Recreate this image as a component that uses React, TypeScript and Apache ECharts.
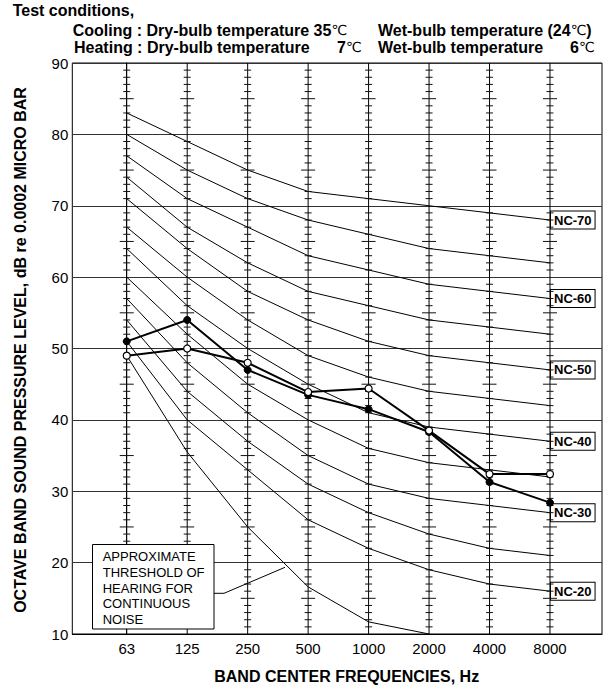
import React, { useEffect, useRef } from "react";
import * as echarts from "echarts";

// ---- data ----
const freqLabels = ["63", "125", "250", "500", "1000", "2000", "4000", "8000"];

const nc70 = [83, 79, 75, 72, 71, 70, 69, 68];
const nc65 = [80, 75, 71, 68, 66, 64, 63, 62];
const nc60 = [77, 71, 67, 63, 61, 59, 58, 57];
const nc55 = [74, 67, 62, 58, 56, 54, 53, 52];
const nc50 = [71, 64, 58, 54, 51, 49, 48, 47];
const nc45 = [67, 60, 54, 49, 46, 44, 43, 42];
const nc40 = [64, 56, 50, 45, 41, 39, 38, 37];
const nc35 = [60, 52, 45, 40, 36, 34, 33, 32];
const nc30 = [57, 48, 41, 35, 31, 29, 28, 27];
const nc25 = [54, 44, 37, 31, 27, 24, 22, 21];
const nc20 = [51, 40, 33, 26, 22, 19, 17, 16];

const thresholdOfHearing = [49, 35.5, 25, 16.6, 11.7, 10];

const filledMarkerLevels = [51, 54, 47, 43.5, 41.5, 38.3, 31.3, 28.4];
const openMarkerLevels = [49, 50, 48, 43.9, 44.4, 38.5, 32.4, 32.4];

const ncCurves: { name: string; values: number[]; labeled: boolean }[] = [
  { name: "NC-70", values: nc70, labeled: true },
  { name: "NC-65", values: nc65, labeled: false },
  { name: "NC-60", values: nc60, labeled: true },
  { name: "NC-55", values: nc55, labeled: false },
  { name: "NC-50", values: nc50, labeled: true },
  { name: "NC-45", values: nc45, labeled: false },
  { name: "NC-40", values: nc40, labeled: true },
  { name: "NC-35", values: nc35, labeled: false },
  { name: "NC-30", values: nc30, labeled: true },
  { name: "NC-25", values: nc25, labeled: false },
  { name: "NC-20", values: nc20, labeled: true },
];

const FONT = "'Liberation Sans', Arial, Helvetica, sans-serif";
const CJK = "'DejaVu Sans', 'Noto Sans CJK JP', sans-serif";

export default function App() {
  const ref = useRef<HTMLDivElement>(null);

  useEffect(() => {
    document.body.style.margin = "0";
    if (!ref.current) return;
    const chart = echarts.init(ref.current, null, { renderer: "svg" });

    const toPts = (arr: number[]) => arr.map((v, i) => [i, v]);

    const series: any[] = [];

    ncCurves.forEach((c) => {
      series.push({
        type: "line",
        name: c.name,
        data: toPts(c.values),
        symbol: "none",
        silent: true,
        z: 2,
        lineStyle: { color: "#000", width: 1 },
        endLabel: c.labeled
          ? {
              show: true,
              formatter: c.name,
              distance: 1,
              fontFamily: FONT,
              fontWeight: "bold",
              fontSize: 13,
              color: "#000",
              backgroundColor: "#fff",
              borderColor: "#000",
              borderWidth: 1,
              padding: [2, 3, 1, 3],
              lineHeight: 14,
            }
          : { show: false },
      });
    });

    series.push({
      type: "line",
      name: "threshold",
      data: toPts(thresholdOfHearing),
      symbol: "none",
      silent: true,
      z: 2,
      lineStyle: { color: "#000", width: 1 },
    });

    // vertical frequency lines with 1 dB ticks
    series.push({
      type: "custom",
      silent: true,
      z: 3,
      data: freqLabels.map((_, i) => [i, 10]),
      encode: { x: 0, y: 1 },
      renderItem: (params: any, api: any) => {
        const i = api.value(0);
        const top = api.coord([i, 90]);
        const bot = api.coord([i, 10]);
        const children: any[] = [
          {
            type: "line",
            shape: { x1: top[0], y1: top[1], x2: bot[0], y2: bot[1] },
            style: { stroke: "#000", lineWidth: 1 },
          },
        ];
        for (let d = 11; d < 90; d++) {
          if (d % 10 === 0) continue;
          const p = api.coord([i, d]);
          const hw = d % 5 === 0 ? 7 : 3.5;
          children.push({
            type: "line",
            shape: { x1: p[0] - hw, y1: p[1], x2: p[0] + hw, y2: p[1] },
            style: { stroke: "#111", lineWidth: 1 },
          });
        }
        return { type: "group", children };
      },
    });

    series.push({
      type: "line",
      name: "filled",
      data: toPts(filledMarkerLevels),
      symbol: "circle",
      symbolSize: 7,
      z: 5,
      lineStyle: { color: "#000", width: 2 },
      itemStyle: { color: "#000", borderColor: "#000", borderWidth: 1 },
    });
    series.push({
      type: "line",
      name: "open",
      data: toPts(openMarkerLevels),
      symbol: "circle",
      symbolSize: 7,
      z: 6,
      lineStyle: { color: "#000", width: 2 },
      itemStyle: { color: "#fff", borderColor: "#000", borderWidth: 1.2 },
    });

    const boldText = (text: string, x: number, y: number) => ({
      type: "text",
      x,
      y,
      z: 100,
      style: {
        text,
        fontFamily: FONT,
        fontWeight: "bold",
        fontSize: 16,
        lineHeight: 15,
        fill: "#000",
        verticalAlign: "middle",
        align: "left",
        rich: {
          c: { fontFamily: CJK, fontWeight: "normal", fontSize: 14, lineHeight: 14, fill: "#000" },
        },
      },
    });

    chart.setOption({
      animation: false,
      backgroundColor: "#fff",
      textStyle: { fontFamily: FONT },
      grid: {
        left: 72.3,
        right: 10,
        top: 63,
        bottom: 54,
        show: true,
        borderColor: "#000",
        borderWidth: 1,
        backgroundColor: "transparent",
        containLabel: false,
      },
      xAxis: {
        type: "value",
        min: -0.9,
        max: 7.86,
        axisLine: { show: true, lineStyle: { color: "#000", width: 1 } },
        axisTick: { show: false },
        splitLine: { show: false },
        axisLabel: {
          customValues: freqLabels.map((_, i) => i),
          formatter: (v: number) => freqLabels[Math.round(v)] ?? "",
          fontSize: 15,
          color: "#000",
          margin: 7,
          fontFamily: FONT,
        },
      },
      yAxis: {
        type: "value",
        min: 10,
        max: 90,
        interval: 10,
        axisLine: { show: true, lineStyle: { color: "#000", width: 1 } },
        axisTick: { show: false },
        splitLine: { show: true, lineStyle: { color: "#333", width: 1.2 } },
        axisLabel: { fontSize: 15, color: "#000", margin: 4, fontFamily: FONT },
      },
      series,
      graphic: [
        boldText("Test conditions,", 12.7, 10),
        boldText("Cooling : Dry-bulb temperature 35{c|℃}", 72.7, 30),
        boldText("Wet-bulb temperature (24{c|℃})", 378, 30),
        boldText("Heating : Dry-bulb temperature", 74, 47),
        boldText("7{c|℃}", 337, 47),
        boldText("Wet-bulb temperature", 378, 47),
        boldText("6{c|℃}", 570, 47),
        {
          type: "text",
          x: 20.8,
          y: 350,
          rotation: Math.PI / 2,
          z: 100,
          style: {
            text: "OCTAVE BAND SOUND PRESSURE LEVEL, dB re 0.0002 MICRO BAR",
            fontFamily: FONT,
            fontWeight: "bold",
            fontSize: 16,
            fill: "#000",
            align: "center",
            verticalAlign: "middle",
          },
        },
        {
          type: "text",
          x: 346.7,
          y: 676,
          z: 100,
          style: {
            text: "BAND CENTER FREQUENCIES, Hz",
            fontFamily: FONT,
            fontWeight: "bold",
            fontSize: 16,
            fill: "#000",
            align: "center",
            verticalAlign: "middle",
          },
        },
        {
          type: "rect",
          z: 100,
          shape: { x: 92.5, y: 544.5, width: 121.5, height: 84.5 },
          style: { fill: "#fff", stroke: "#000", lineWidth: 1 },
        },
        {
          type: "text",
          x: 102.7,
          y: 548.9,
          z: 101,
          style: {
            text: "APPROXIMATE\nTHRESHOLD OF\nHEARING FOR\nCONTINUOUS\nNOISE",
            fontFamily: FONT,
            fontSize: 13,
            lineHeight: 15.65,
            fill: "#000",
            align: "left",
            verticalAlign: "top",
          },
        },
        {
          type: "polyline",
          z: 101,
          shape: { points: [[214, 593.3], [224, 593.3], [285, 567.3]] },
          style: { stroke: "#000", lineWidth: 1, fill: null },
        },
      ],
    });

    return () => chart.dispose();
  }, []);

  return (
    <div
      ref={ref}
      style={{ position: "absolute", left: 0, top: 0, width: 612, height: 688 }}
    />
  );
}
